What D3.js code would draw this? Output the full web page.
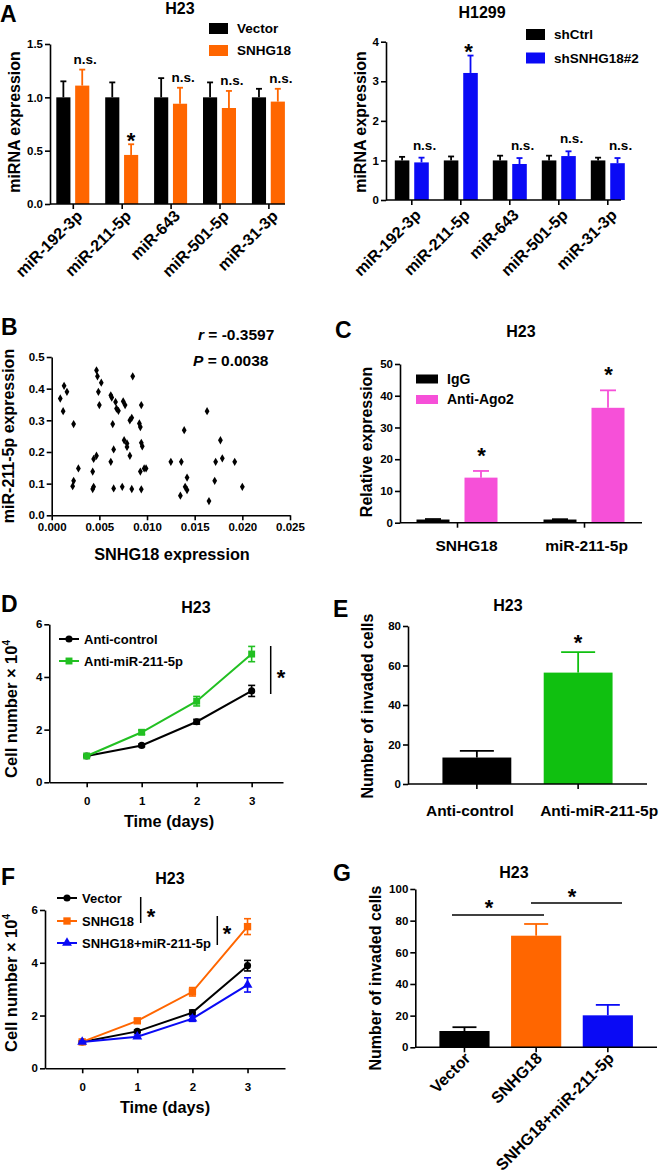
<!DOCTYPE html>
<html><head><meta charset="utf-8">
<script src="https://cdn.jsdelivr.net/npm/d3@7"></script>
<style>body{margin:0;background:#fff}</style>
</head><body>
<svg id="fig" width="664" height="1173"></svg>
<script>
// ---------- DATA ----------
const mirNames = ["miR-192-3p","miR-211-5p","miR-643","miR-501-5p","miR-31-3p"];
const h23Vector = [1.0,1.0,1.0,1.0,1.0];
const h23VectorErr = [0.15,0.14,0.18,0.14,0.08];
const h23Snhg18 = [1.11,0.46,0.94,0.90,0.96];
const h23Snhg18Err = [0.15,0.10,0.15,0.16,0.12];
const h23Sig = ["n.s.","*","n.s.","n.s.","n.s."];
const h1299Ctrl = [1.0,1.0,1.0,1.0,1.0];
const h1299CtrlErr = [0.09,0.10,0.12,0.12,0.07];
const h1299Sh = [0.95,3.21,0.91,1.11,0.93];
const h1299ShErr = [0.12,0.44,0.15,0.12,0.13];
const h1299Sig = ["n.s.","*","n.s.","n.s.","n.s."];
const yTicksA1 = [0,0.5,1.0,1.5];
const yTicksA2 = [0,1,2,3,4];

const snhg18Expr = [0.0009,0.0012,0.0013,0.0016,0.0022,0.0023,0.0023,0.0028,0.0043,0.0043,0.0044,0.0044,0.0047,0.0047,0.0048,0.0049,0.0050,0.0052,0.0062,0.0063,0.0062,0.0064,0.0065,0.0065,0.0067,0.0068,0.0070,0.0074,0.0075,0.0077,0.0076,0.0079,0.0079,0.0082,0.0084,0.0082,0.0084,0.0085,0.0092,0.0093,0.0094,0.0094,0.0093,0.0094,0.0095,0.0097,0.0099,0.0125,0.0135,0.0136,0.0139,0.0140,0.0142,0.0142,0.0163,0.0165,0.0171,0.0172,0.0177,0.0179,0.0192,0.0200];
const mir211Expr = [0.369,0.329,0.409,0.390,0.092,0.109,0.288,0.148,0.138,0.083,0.090,0.178,0.188,0.458,0.439,0.390,0.348,0.419,0.379,0.372,0.169,0.288,0.208,0.085,0.358,0.337,0.330,0.090,0.360,0.348,0.237,0.227,0.216,0.300,0.308,0.188,0.083,0.439,0.290,0.279,0.348,0.082,0.138,0.229,0.218,0.148,0.148,0.169,0.062,0.169,0.269,0.090,0.080,0.119,0.329,0.045,0.109,0.169,0.237,0.180,0.169,0.090];
const xTicksB = [0,0.005,0.010,0.015,0.020,0.025];
const yTicksB = [0,0.1,0.2,0.3,0.4,0.5];
const corrR = "-0.3597";
const corrP = "0.0038";

const ripTargets = ["SNHG18","miR-211-5p"];
const ripIgG = [1.0,1.0];
const ripIgGErr = [0.15,0.1];
const ripAgo2 = [14.2,36.2];
const ripAgo2Err = [2.1,5.5];
const yTicksC = [0,10,20,30,40,50];

const days = [0,1,2,3];
const dAntiControl = [1.0,1.4,2.3,3.47];
const dAntiControlErr = [0.03,0.05,0.09,0.21];
const dAntiMir = [1.0,1.9,3.08,4.87];
const dAntiMirErr = [0.04,0.08,0.18,0.29];
const yTicksD = [0,2,4,6];

const eGroups = ["Anti-control","Anti-miR-211-5p"];
const eInvaded = [13.4,56.4];
const eInvadedErr = [3.4,10.4];
const yTicksE = [0,20,40,60,80];

const fVector = [1.0,1.4,2.11,3.89];
const fVectorErr = [0.03,0.05,0.1,0.2];
const fSnhg18 = [1.0,1.8,2.9,5.37];
const fSnhg18Err = [0.04,0.07,0.16,0.3];
const fRescue = [1.0,1.2,1.88,3.16];
const fRescueErr = [0.03,0.06,0.1,0.27];
const yTicksF = [0,2,4,6];

const gGroups = ["Vector","SNHG18","SNHG18+miR-211-5p"];
const gInvaded = [10.3,70.5,20.2];
const gInvadedErr = [2.4,7.4,6.6];
const yTicksG = [0,20,40,60,80,100];

// ---------- STYLE ----------
const FONT = "'Liberation Sans', Arial, Helvetica, sans-serif";
const BLACK = "#000000", ORANGE = "#FF6600", BLUE = "#0A0AF5", PINK = "#F650D8", GREEN = "#10C010", LGREEN = "#22C022";
const STAR = 22;
const svg = d3.select("#fig");
svg.append("rect").attr("width",664).attr("height",1173).attr("fill","#fff");

function txt(x, y, s, size, anchor="middle") {
  return svg.append("text").attr("x",x).attr("y",y).attr("font-family",FONT)
    .attr("font-weight","bold").attr("font-size",size).attr("text-anchor",anchor)
    .attr("fill","#000").text(s);
}
function styleAxis(g, size) {
  g.selectAll("path,line").attr("stroke","#000").attr("stroke-width",1.6);
  g.selectAll("text").attr("font-family",FONT).attr("font-weight","bold")
    .attr("font-size",size).attr("fill","#000");
}
function yAxis(x, y, ticks, fmt) {
  const g = svg.append("g").attr("transform",`translate(${x},0)`)
    .call(d3.axisLeft(y).tickValues(ticks).tickFormat(fmt).tickSize(5).tickSizeOuter(0).tickPadding(2));
  styleAxis(g, 11.5);
  return g;
}
function xAxisLine(x0, x1, yy) {
  svg.append("line").attr("x1",x0).attr("x2",x1).attr("y1",yy).attr("y2",yy)
    .attr("stroke","#000").attr("stroke-width",1.6);
}
function xAxisTicks(scale, yy, labels) {
  const g = svg.append("g").attr("transform",`translate(0,${yy})`)
    .call(d3.axisBottom(scale).tickSize(5).tickSizeOuter(0).tickPadding(4));
  g.select(".domain").remove();
  styleAxis(g, 16);
  if (!labels) g.selectAll("text").remove();
  return g;
}
function yLabel(x, yc, s, size=16) {
  return svg.append("text").attr("transform",`translate(${x},${yc}) rotate(-90)`)
    .attr("text-anchor","middle").attr("dy","0.35em").attr("font-family",FONT)
    .attr("font-weight","bold").attr("font-size",size).attr("fill","#000").text(s);
}
function panelLetter(x, y, s) { txt(x, y, s, 23, "start"); }
function legendRect(x, y, w, h, color, label, size=13.5) {
  svg.append("rect").attr("x",x).attr("y",y).attr("width",w).attr("height",h).attr("fill",color);
  txt(x + w + 9, y + h/2, label, size, "start").attr("dy","0.35em");
}
function upperErr(cx, yTop, yErr, color, capW) {
  svg.append("line").attr("x1",cx).attr("x2",cx).attr("y1",yTop).attr("y2",yErr)
    .attr("stroke",color).attr("stroke-width",1.8);
  svg.append("line").attr("x1",cx-capW/2).attr("x2",cx+capW/2).attr("y1",yErr).attr("y2",yErr)
    .attr("stroke",color).attr("stroke-width",1.8);
}

// ---------- grouped bar helper ----------
function groupedBars(o) {
  const inner = d3.scaleBand().domain([0,1]).range(o.innerRange).paddingInner(o.pad);
  const series = [[o.v1,o.e1,o.c1],[o.v2,o.e2,o.c2]];
  o.cats.forEach((c, i) => {
    series.forEach(([v,e,col], k) => {
      const x = o.x(c) + inner(k);
      svg.append("rect").attr("x",x).attr("width",inner.bandwidth())
        .attr("y",o.y(v[i])).attr("height",o.y(0)-o.y(v[i])).attr("fill",col);
      upperErr(x + inner.bandwidth()/2, o.y(v[i]), o.y(v[i]+e[i]), col, o.capW);
    });
  });
  return inner;
}

// ================= PANEL A (H23) =================
{
  const y = d3.scaleLinear().domain([0,1.5]).range([204,44]);
  const x = d3.scalePoint().domain(mirNames).range([72.8, 268.4]);
  const inner = groupedBars({cats:mirNames, x, y, v1:h23Vector, e1:h23VectorErr, c1:BLACK,
    v2:h23Snhg18, e2:h23Snhg18Err, c2:ORANGE, innerRange:[-16.5,16.5], pad:0.25, capW:6});
  yAxis(50, y, yTicksA1, d3.format(".1f"));
  xAxisLine(50, 285, 204);
  const gx = xAxisTicks(x, 204, true);
  gx.selectAll("text").attr("text-anchor","end").attr("y",0).attr("dy",0)
    .attr("transform","translate(10,13) rotate(-45)");
  mirNames.forEach((c,i) => {
    const cx = x(c) + inner(1) + inner.bandwidth()/2;
    const top = y(h23Snhg18[i] + h23Snhg18Err[i]);
    if (h23Sig[i] === "*") txt(cx, top + 4, "*", STAR);
    else txt(cx+3, top - 6, h23Sig[i], 13.5);
  });
  txt(180, 14, "H23", 16);
  legendRect(209, 23, 19, 11, BLACK, "Vector");
  legendRect(209, 45, 19, 11, ORANGE, "SNHG18");
  yLabel(14, 122, "miRNA expression");
  panelLetter(0, 21.7, "A");
}
// ================= PANEL A (H1299) =================
{
  const y = d3.scaleLinear().domain([0,4]).range([200,41.7]);
  const x = d3.scalePoint().domain(mirNames).range([411.3, 607.3]);
  const inner = groupedBars({cats:mirNames, x, y, v1:h1299Ctrl, e1:h1299CtrlErr, c1:BLACK,
    v2:h1299Sh, e2:h1299ShErr, c2:BLUE, innerRange:[-16.5,17.5], pad:0.25, capW:6});
  yAxis(386, y, yTicksA2, d3.format("d"));
  xAxisLine(386, 621, 200);
  const gx = xAxisTicks(x, 200, true);
  gx.selectAll("text").attr("text-anchor","end").attr("y",0).attr("dy",0)
    .attr("transform","translate(10,16) rotate(-45)");
  mirNames.forEach((c,i) => {
    const cx = x(c) + inner(1) + inner.bandwidth()/2;
    const top = y(h1299Sh[i] + h1299ShErr[i]);
    if (h1299Sig[i] === "*") txt(cx-2, top + 3, "*", STAR);
    else txt(cx+3, top - 8, h1299Sig[i], 13.5);
  });
  txt(482, 18, "H1299", 16);
  legendRect(526, 29, 19, 11, BLACK, "shCtrl");
  legendRect(526, 52.5, 19, 11, BLUE, "shSNHG18#2");
  yLabel(360, 122, "miRNA expression");
}
// ================= PANEL B =================
{
  const x = d3.scaleLinear().domain([0,0.025]).range([51.7, 290]);
  const y = d3.scaleLinear().domain([0,0.5]).range([515.3, 357]);
  const sym = d3.symbol().type(d3.symbolDiamond).size(20);
  snhg18Expr.forEach((v,i) => {
    svg.append("path").attr("d", sym).attr("fill","#000")
      .attr("transform",`translate(${x(v)},${y(mir211Expr[i])})`);
  });
  yAxis(51.7, y, yTicksB, d3.format(".1f"));
  const gx = svg.append("g").attr("transform","translate(0,515.3)")
    .call(d3.axisBottom(x).tickValues(xTicksB).tickFormat(d3.format(".3f")).tickSize(5).tickSizeOuter(0).tickPadding(3));
  styleAxis(gx, 11.5);
  txt(172, 559.5, "SNHG18 expression", 16.3);
  yLabel(8, 436, "miR-211-5p expression");
  const t1 = txt(198, 340, "", 15.5, "start");
  t1.append("tspan").attr("font-style","italic").text("r");
  t1.append("tspan").text(" = " + corrR);
  const t2 = txt(193, 366, "", 15.5, "start");
  t2.append("tspan").attr("font-style","italic").text("P");
  t2.append("tspan").text(" = " + corrP);
  panelLetter(1, 335, "B");
}
// ================= PANEL C =================
{
  const y = d3.scaleLinear().domain([0,50]).range([522.7, 364]);
  const x = d3.scalePoint().domain(ripTargets).range([457, 584]);
  groupedBars({cats:ripTargets, x, y, v1:ripIgG, e1:ripIgGErr, c1:BLACK,
    v2:ripAgo2, e2:ripAgo2Err, c2:PINK, innerRange:[-40.5,40.5], pad:0.3125, capW:16});
  yAxis(400, y, yTicksC, d3.format("d"));
  xAxisLine(400, 642, 522.7);
  const gx = xAxisTicks(x, 522.7, true);
  gx.selectAll("text").attr("y",17.5).attr("dy","0.71em")
    .attr("dx",(d,i)=>[9,2][i]).attr("font-size",15.5);
  ripTargets.forEach((c,i) => {
    const cx = x(c) + 24.5;
    txt(cx, y(ripAgo2[i]+ripAgo2Err[i]) - 8, "*", STAR);
  });
  txt(521, 337, "H23", 16);
  legendRect(416, 374.5, 22, 9, BLACK, "IgG", 14);
  legendRect(416, 395, 22, 9, PINK, "Anti-Ago2", 14);
  yLabel(366, 442, "Relative expression");
  panelLetter(335, 338, "C");
}
// ---------- line chart helper ----------
function lineSeries(x, y, vals, errs, color, type, size) {
  const line = d3.line().x((d,i)=>x(days[i])).y(d=>y(d));
  svg.append("path").attr("d", line(vals)).attr("fill","none").attr("stroke",color).attr("stroke-width",2);
  vals.forEach((v,i) => {
    const cx = x(days[i]);
    svg.append("line").attr("x1",cx).attr("x2",cx).attr("y1",y(v-errs[i])).attr("y2",y(v+errs[i]))
      .attr("stroke",color).attr("stroke-width",1.6);
    [v-errs[i], v+errs[i]].forEach(e => svg.append("line").attr("x1",cx-3.5).attr("x2",cx+3.5)
      .attr("y1",y(e)).attr("y2",y(e)).attr("stroke",color).attr("stroke-width",1.6));
    svg.append("path").attr("d", d3.symbol().type(type).size(size)).attr("fill",color)
      .attr("transform",`translate(${cx},${y(v)})`);
  });
}
function lineLegend(x0, yy, color, type, size, label) {
  svg.append("line").attr("x1",x0).attr("x2",x0+20).attr("y1",yy).attr("y2",yy).attr("stroke",color).attr("stroke-width",2);
  svg.append("path").attr("d", d3.symbol().type(type).size(size)).attr("fill",color)
    .attr("transform",`translate(${x0+10},${yy})`);
  txt(x0+25, yy, label, 13, "start").attr("dy","0.35em");
}
function cellLabel(x, yc) {
  const t = svg.append("text").attr("transform",`translate(${x},${yc}) rotate(-90)`)
    .attr("text-anchor","middle").attr("dy","0.35em").attr("font-family",FONT)
    .attr("font-weight","bold").attr("font-size",16.5).attr("fill","#000");
  t.append("tspan").text("Cell number \u00d7 10");
  t.append("tspan").attr("font-size",10).attr("dy","-0.7em").text("4");
}
// ================= PANEL D =================
{
  const x = d3.scaleLinear().domain([-0.68,3.57]).range([49.3,283]);
  const y = d3.scaleLinear().domain([0,6]).range([782.3,624.3]);
  lineSeries(x, y, dAntiControl, dAntiControlErr, BLACK, d3.symbolCircle, 40);
  lineSeries(x, y, dAntiMir, dAntiMirErr, LGREEN, d3.symbolSquare, 48);
  yAxis(49.3, y, yTicksD, d3.format("d"));
  const gx = svg.append("g").attr("transform","translate(0,782.3)")
    .call(d3.axisBottom(x).tickValues(days).tickFormat(d3.format("d")).tickSize(5).tickSizeOuter(0).tickPadding(10));
  styleAxis(gx, 11.5);
  txt(169, 826.5, "Time (days)", 16.3);
  cellLabel(11, 709);
  lineLegend(59, 639, BLACK, d3.symbolCircle, 40, "Anti-control");
  lineLegend(59, 661, LGREEN, d3.symbolSquare, 48, "Anti-miR-211-5p");
  svg.append("line").attr("x1",270.7).attr("x2",270.7).attr("y1",646).attr("y2",694).attr("stroke","#000").attr("stroke-width",1.5);
  txt(281, 685, "*", STAR);
  txt(196, 612.5, "H23", 16);
  panelLetter(1, 612, "D");
}
// ================= PANEL E =================
{
  const y = d3.scaleLinear().domain([0,80]).range([784,626]);
  const x = d3.scaleBand().domain(eGroups).range([408,647]).paddingInner(0.32).paddingOuter(0.34);
  const cols = [BLACK, GREEN];
  eGroups.forEach((g,i) => {
    svg.append("rect").attr("x",x(g)).attr("width",x.bandwidth()).attr("y",y(eInvaded[i]))
      .attr("height",y(0)-y(eInvaded[i])).attr("fill",cols[i]);
    upperErr(x(g)+x.bandwidth()/2, y(eInvaded[i]), y(eInvaded[i]+eInvadedErr[i]), cols[i], 34);
  });
  yAxis(408, y, yTicksE, d3.format("d"));
  xAxisLine(408, 647, 784);
  const gx = xAxisTicks(x, 784, true);
  gx.selectAll("text").attr("y",21).attr("dy","0.71em").attr("dx",(d,i)=>[-7,21][i]).attr("font-size",15.5);
  txt(x(eGroups[1])+x.bandwidth()/2, y(eInvaded[1]+eInvadedErr[1]) - 2, "*", STAR);
  txt(508, 610.5, "H23", 16);
  yLabel(367, 706, "Number of invaded cells");
  panelLetter(333, 617, "E");
}
// ================= PANEL F =================
{
  const x = d3.scaleLinear().domain([-0.675,3.68]).range([45,285]);
  const y = d3.scaleLinear().domain([0,6]).range([1068.3,910]);
  lineSeries(x, y, fVector, fVectorErr, BLACK, d3.symbolCircle, 40);
  lineSeries(x, y, fSnhg18, fSnhg18Err, ORANGE, d3.symbolSquare, 54);
  lineSeries(x, y, fRescue, fRescueErr, BLUE, d3.symbolTriangle, 42);
  yAxis(45, y, yTicksF, d3.format("d"));
  const gx = svg.append("g").attr("transform","translate(0,1068.3)")
    .call(d3.axisBottom(x).tickValues(days).tickFormat(d3.format("d")).tickSize(5).tickSizeOuter(0).tickPadding(10));
  styleAxis(gx, 11.5);
  txt(165, 1113, "Time (days)", 16.3);
  cellLabel(11, 983);
  lineLegend(57, 898, BLACK, d3.symbolCircle, 40, "Vector");
  lineLegend(57, 921, ORANGE, d3.symbolSquare, 54, "SNHG18");
  lineLegend(57, 943, BLUE, d3.symbolTriangle, 42, "SNHG18+miR-211-5p");
  svg.append("line").attr("x1",140.7).attr("x2",140.7).attr("y1",897).attr("y2",923).attr("stroke","#000").attr("stroke-width",1.5);
  txt(151, 924, "*", STAR);
  svg.append("line").attr("x1",217.3).attr("x2",217.3).attr("y1",916).attr("y2",945).attr("stroke","#000").attr("stroke-width",1.5);
  txt(227, 941, "*", STAR);
  txt(170, 883.5, "H23", 16);
  panelLetter(1, 885, "F");
}
// ================= PANEL G =================
{
  const y = d3.scaleLinear().domain([0,100]).range([1047.3,889]);
  const x = d3.scaleBand().domain(gGroups).range([415.3,657]).paddingInner(0.30).paddingOuter(0.336);
  const cols = [BLACK, ORANGE, BLUE];
  gGroups.forEach((g,i) => {
    svg.append("rect").attr("x",x(g)).attr("width",x.bandwidth()).attr("y",y(gInvaded[i]))
      .attr("height",y(0)-y(gInvaded[i])).attr("fill",cols[i]);
    upperErr(x(g)+x.bandwidth()/2, y(gInvaded[i]), y(gInvaded[i]+gInvadedErr[i]), cols[i], 24);
  });
  yAxis(415.3, y, yTicksG, d3.format("d"));
  xAxisLine(415.3, 657, 1047.3);
  const gx = xAxisTicks(x, 1047.3, true);
  gx.selectAll("text").attr("text-anchor","end").attr("y",0).attr("dy",0)
    .attr("transform","translate(7,12) rotate(-45)");
  svg.append("line").attr("x1",452).attr("x2",544).attr("y1",915).attr("y2",915).attr("stroke","#000").attr("stroke-width",1.5);
  txt(489, 915, "*", STAR);
  svg.append("line").attr("x1",531).attr("x2",622).attr("y1",903).attr("y2",903).attr("stroke","#000").attr("stroke-width",1.5);
  txt(572, 904, "*", STAR);
  txt(514, 877.5, "H23", 16);
  yLabel(375, 978, "Number of invaded cells");
  panelLetter(333, 881, "G");
}
</script>
</body></html>
